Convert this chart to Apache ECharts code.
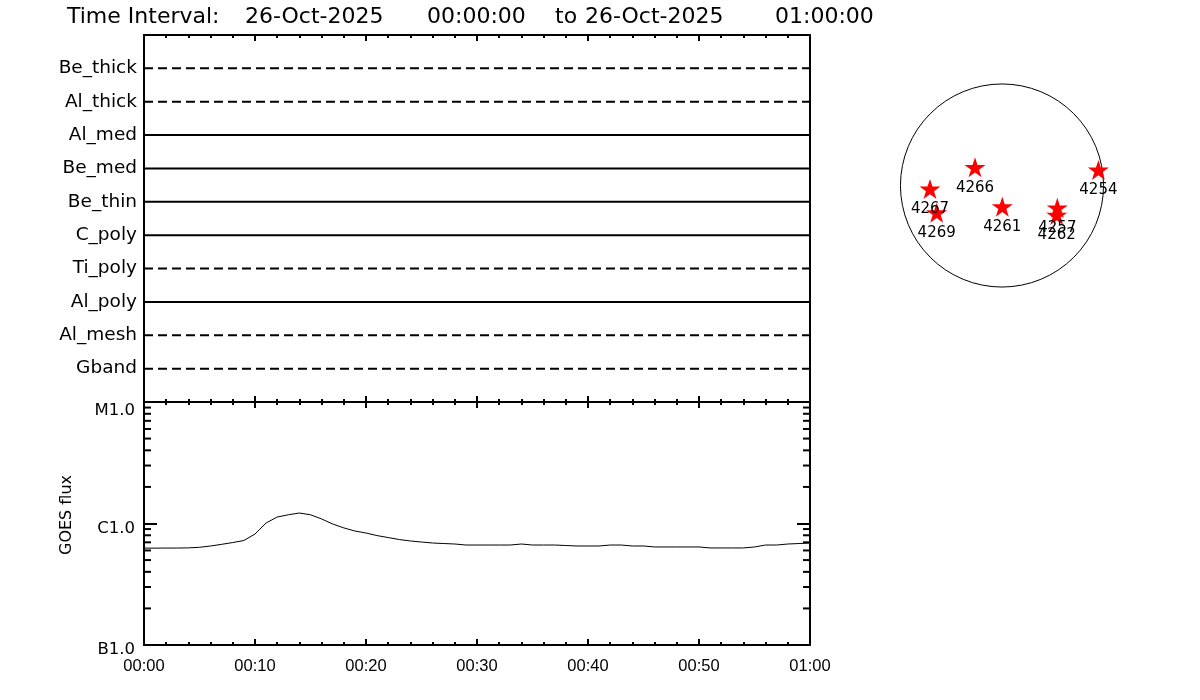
<!DOCTYPE html>
<html>
<head>
<meta charset="utf-8">
<script src="https://cdn.jsdelivr.net/npm/echarts@6/dist/echarts.min.js"></script>
<style>html,body{margin:0;padding:0;background:#fff}#c{width:1200px;height:700px}</style>
</head>
<body>
<div id="c"></div>
<script>
// ---- data ----
const titleParts = ['Time Interval:', '26-Oct-2025', '00:00:00', 'to', '26-Oct-2025', '01:00:00'];
const filters = ['Be_thick', 'Al_thick', 'Al_med', 'Be_med', 'Be_thin', 'C_poly', 'Ti_poly', 'Al_poly', 'Al_mesh', 'Gband'];
const dashedFilters = ['Be_thick', 'Al_thick', 'Ti_poly', 'Al_mesh', 'Gband'];
const timeRange = [0, 60]; // minutes after 26-Oct-2025 00:00
const goesMinutes = [0,1,2,3,4,5,6,7,8,9,10,11,12,13,14,15,16,17,18,19,20,21,22,23,24,25,26,27,28,29,30,31,32,33,34,35,36,37,38,39,40,41,42,43,44,45,46,47,48,49,50,51,52,53,54,55,56,57,58,59,60];
const goesFlux = [6.27e-7,6.27e-7,6.28e-7,6.28e-7,6.30e-7,6.37e-7,6.53e-7,6.74e-7,6.97e-7,7.25e-7,
  8.19e-7,1.01e-6,1.13e-6,1.18e-6,1.22e-6,1.18e-6,1.09e-6,9.9e-7,9.2e-7,8.67e-7,
  8.35e-7,7.95e-7,7.66e-7,7.38e-7,7.18e-7,7.04e-7,6.91e-7,6.84e-7,6.78e-7,6.65e-7,
  6.65e-7,6.65e-7,6.65e-7,6.65e-7,6.78e-7,6.65e-7,6.65e-7,6.65e-7,6.59e-7,6.53e-7,
  6.53e-7,6.53e-7,6.65e-7,6.65e-7,6.53e-7,6.53e-7,6.41e-7,6.41e-7,6.41e-7,6.41e-7,
  6.41e-7,6.29e-7,6.29e-7,6.29e-7,6.29e-7,6.41e-7,6.65e-7,6.65e-7,6.78e-7,6.84e-7,6.91e-7];
const fluxClassLabels = {'-7': 'B1.0', '-6': 'C1.0', '-5': 'M1.0'};
const fluxRange = [1e-7, 1e-5];
const minorFluxTicks = [2e-7,3e-7,4e-7,5e-7,6e-7,7e-7,8e-7,9e-7,2e-6,3e-6,4e-6,5e-6,6e-6,7e-6,8e-6,9e-6];
const diskRadius = 967; // arcsec
const regionIds = ['4254', '4257', '4261', '4262', '4266', '4267', '4269'];
const regionX = [918, 527, 3, 521, -257, -686, -622];
const regionY = [148, -212, -202, -281, 173, -33, -259];

// ---- chart ----
const titleLeft = [67, 245, 427, 555, 585, 775];
const FONT = "'DejaVu Sans', sans-serif";
const TFONT = "'Liberation Sans', sans-serif";
const chart = echarts.init(document.getElementById('c'), null, {renderer: 'canvas'});

function fmtTime(v) {
  const h = Math.floor(v / 60), m = v % 60;
  return String(h).padStart(2, '0') + ':' + String(m).padStart(2, '0');
}
function timeAxis(gridIndex, position, showLabel) {
  return {
    type: 'value', gridIndex, position, min: timeRange[0], max: timeRange[1], interval: 10,
    axisLine: {show: true, onZero: false, lineStyle: {color: '#000', width: 2}},
    axisTick: {show: true, inside: true, length: 6, lineStyle: {color: '#000', width: 2}},
    minorTick: {show: true, splitNumber: 5, length: 3, lineStyle: {color: '#000', width: 2}},
    splitLine: {show: false},
    axisLabel: {show: showLabel, margin: 13, color: '#000', fontSize: 16.5, fontFamily: TFONT, formatter: fmtTime}
  };
}
function fluxAxis(position, showLabel) {
  return {
    type: 'log', logBase: 10, gridIndex: 1, position, min: fluxRange[0], max: fluxRange[1],
    axisLine: {show: true, onZero: false, lineStyle: {color: '#000', width: 2}},
    axisTick: {show: true, inside: true, length: 13, lineStyle: {color: '#000', width: 2}},
    splitLine: {show: false},
    name: showLabel ? 'GOES flux' : '', nameLocation: 'middle', nameGap: 69, nameRotate: 90,
    nameTextStyle: {color: '#000', fontSize: 16, fontFamily: FONT, padding: [0, 0, 0, 17]},
    axisLabel: {
      show: showLabel, margin: 9, color: '#000', fontSize: 16.5, fontFamily: FONT,
      formatter: v => {
        const k = Math.round(Math.log10(v));
        const t = fluxClassLabels[String(k)] || '';
        return k === -5 ? '{m|' + t + '}' : '{a|' + t + '}';
      },
      rich: {
        a: {fontSize: 16.5, fontFamily: FONT, color: '#000', padding: [10, 0, 0, 0]},
        m: {fontSize: 16.5, fontFamily: FONT, color: '#000', padding: [17, 0, 0, 0]}
      }
    }
  };
}
function filterAxis(position, showLabel) {
  return {
    type: 'value', gridIndex: 0, position, inverse: true, min: 0, max: filters.length + 1, interval: 1,
    axisLine: {show: true, onZero: false, lineStyle: {color: '#000', width: 2}},
    axisTick: {show: false}, splitLine: {show: false},
    axisLabel: {show: showLabel, margin: 7, color: '#000', fontSize: 18.5, fontFamily: FONT,
      showMinLabel: false, showMaxLabel: false,
      formatter: v => filters[v - 1] || ''}
  };
}

const series = [];
filters.forEach((f, i) => {
  series.push({
    type: 'line', xAxisIndex: 0, yAxisIndex: 0, symbol: 'none', silent: true,
    data: [[timeRange[0], i + 1], [timeRange[1], i + 1]],
    lineStyle: {color: '#000', width: 2, type: dashedFilters.includes(f) ? [9, 5] : 'solid'}
  });
});
series.push({
  type: 'line', xAxisIndex: 3, yAxisIndex: 2, symbol: 'none', silent: true,
  data: goesMinutes.map((m, i) => [m, goesFlux[i]]),
  lineStyle: {color: '#000', width: 1}
});
series.push({
  type: 'custom', xAxisIndex: 3, yAxisIndex: 2, silent: true, clip: false,
  data: minorFluxTicks.map(v => [timeRange[0], v]),
  renderItem: (params, api) => {
    const v = api.value(1);
    const L = api.coord([timeRange[0], v]);
    const R = api.coord([timeRange[1], v]);
    return {type: 'group', children: [
      {type: 'line', shape: {x1: L[0], y1: L[1], x2: L[0] + 7, y2: L[1]}, style: {stroke: '#000', lineWidth: 2}},
      {type: 'line', shape: {x1: R[0] - 7, y1: R[1], x2: R[0], y2: R[1]}, style: {stroke: '#000', lineWidth: 2}}
    ]};
  }
});
series.push({
  type: 'custom', xAxisIndex: 4, yAxisIndex: 4, silent: true, clip: false,
  data: [[0, 0]],
  renderItem: (params, api) => {
    const c = api.coord([0, 0]);
    const r = api.size([diskRadius, 0])[0];
    return {type: 'circle', shape: {cx: c[0], cy: c[1], r: r}, style: {fill: 'none', stroke: '#000', lineWidth: 1}};
  }
});
series.push({
  type: 'scatter', xAxisIndex: 4, yAxisIndex: 4, silent: true,
  symbol: 'path://M0,-10L2.245,-3.09L9.51,-3.09L3.633,1.18L5.88,8.09L0,3.82L-5.88,8.09L-3.633,1.18L-9.51,-3.09L-2.245,-3.09Z',
  symbolSize: [21, 20],
  itemStyle: {color: '#ff0000', opacity: 1},
  data: regionIds.map((id, i) => ({name: id, value: [regionX[i], regionY[i]]})),
  label: {show: true, position: 'bottom', distance: 3, formatter: '{b}', color: '#000', opacity: 1, fontSize: 15, fontFamily: FONT}
});

chart.setOption({
  backgroundColor: '#fff',
  animation: false,
  title: titleParts.map((t, i) => ({
    text: t, left: titleLeft[i], top: 6, padding: 0,
    textStyle: {color: '#000', fontSize: 22, fontWeight: 'normal', fontFamily: FONT}
  })),
  grid: [
    {left: 144, top: 35, width: 666, height: 367},
    {left: 144, top: 402, width: 666, height: 243},
    {left: 886.5, top: 70, width: 231, height: 231}
  ],
  xAxis: [
    timeAxis(0, 'top', false),
    timeAxis(0, 'bottom', false),
    timeAxis(1, 'top', false),
    timeAxis(1, 'bottom', true),
    {type: 'value', gridIndex: 2, min: -1100, max: 1100, show: false}
  ],
  yAxis: [
    filterAxis('left', true),
    filterAxis('right', false),
    fluxAxis('left', true),
    fluxAxis('right', false),
    {type: 'value', gridIndex: 2, min: -1100, max: 1100, show: false}
  ],
  series
});
</script>
</body>
</html>
